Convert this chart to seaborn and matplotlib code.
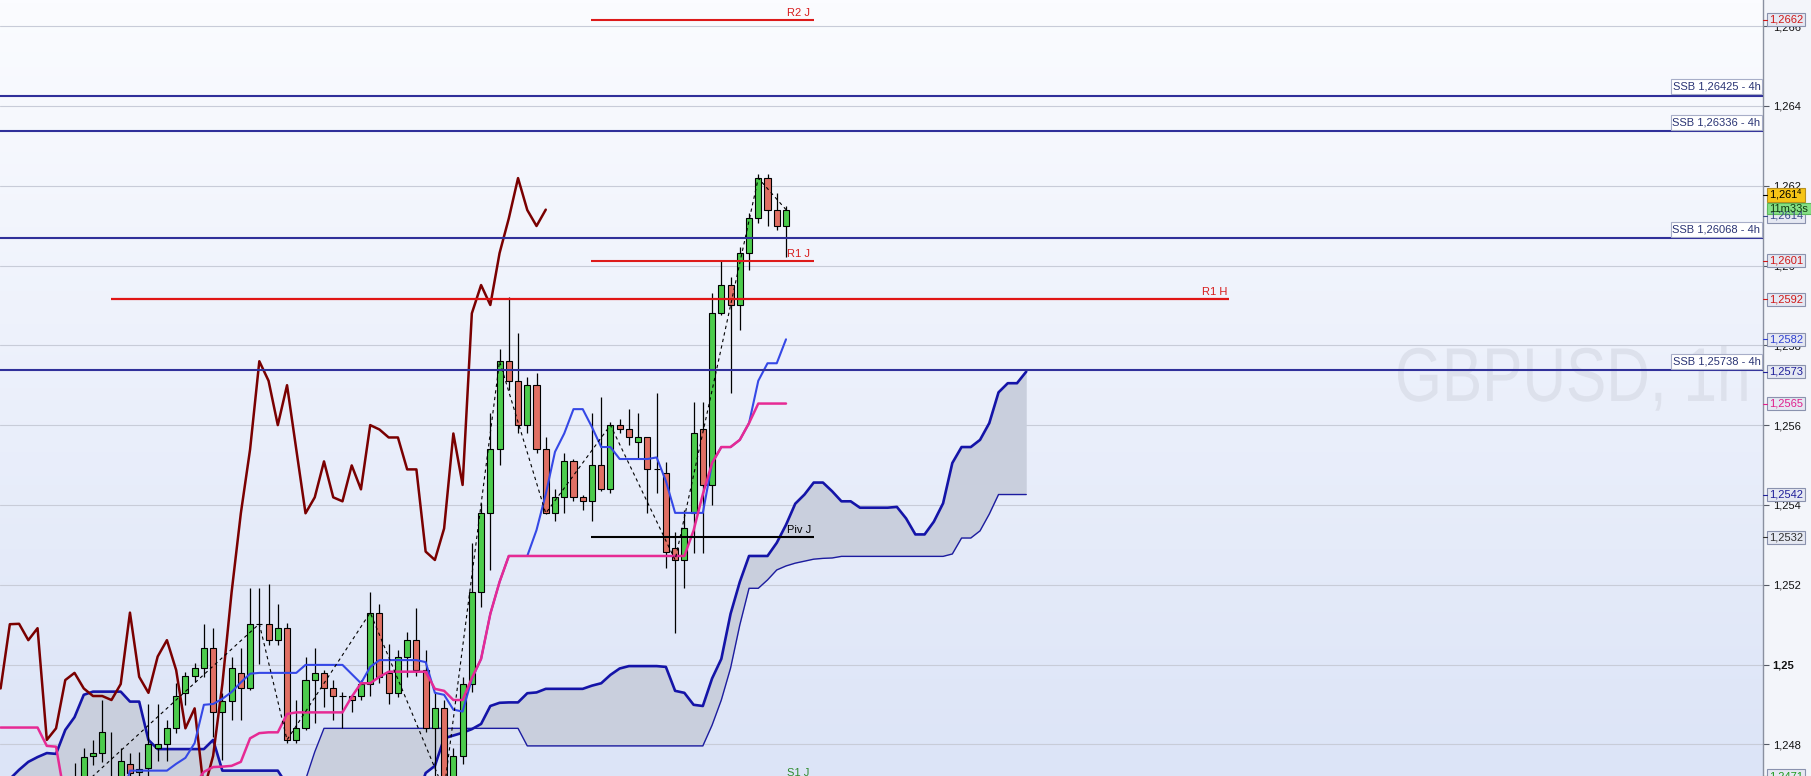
import numpy as np
import seaborn as sns
import matplotlib.pyplot as plt
import matplotlib.transforms as mtransforms
from matplotlib.patches import Rectangle, PathPatch
from matplotlib.textpath import TextPath
from matplotlib.font_manager import FontProperties

# GBPUSD 1h - bars are counted from the left edge of the view (bar 85 = last candle)
first_bar = 8
opens = [1.24711, 1.24678, 1.24771, 1.24779, 1.24706, 1.24660, 1.24750, 1.24730, 1.24740, 1.24790,
         1.24800, 1.24840, 1.24929, 1.24971, 1.24990, 1.25041, 1.24880, 1.24909, 1.24979, 1.24940,
         1.25101, 1.25101, 1.25061, 1.25091, 1.24811, 1.24840, 1.24961, 1.24979, 1.24940, 1.24921,
         1.24921, 1.24921, 1.24951, 1.25130, 1.24979, 1.24929, 1.25020, 1.25061, 1.24986, 1.24840,
         1.24890, 1.24685, 1.24771, 1.24951, 1.25181, 1.25379, 1.25539, 1.25760, 1.25711, 1.25600,
         1.25700, 1.25539, 1.25379, 1.25419, 1.25509, 1.25419, 1.25409, 1.25499, 1.25439, 1.25600,
         1.25589, 1.25558, 1.25569, 1.25489, 1.25479, 1.25291, 1.25262, 1.25379, 1.25589, 1.25450,
         1.25880, 1.25951, 1.25901, 1.26031, 1.26118, 1.26219, 1.26139, 1.26099]
highs = [1.24753, 1.24791, 1.24811, 1.24911, 1.24832, 1.24791, 1.24779, 1.24781, 1.24901, 1.24901,
         1.24861, 1.24953, 1.24982, 1.25003, 1.25102, 1.25091, 1.24928, 1.25020, 1.25041, 1.25191,
         1.25191, 1.25201, 1.25152, 1.25103, 1.24911, 1.25020, 1.25041, 1.24986, 1.24961, 1.24931,
         1.24921, 1.24961, 1.25181, 1.25152, 1.25051, 1.25036, 1.25082, 1.25141, 1.25036, 1.24932,
         1.24911, 1.24790, 1.24969, 1.25304, 1.25405, 1.25630, 1.25790, 1.25922, 1.25832, 1.25721,
         1.25731, 1.25569, 1.25439, 1.25529, 1.25515, 1.25425, 1.25630, 1.25671, 1.25609, 1.25615,
         1.25640, 1.25630, 1.25570, 1.25680, 1.25508, 1.25333, 1.25387, 1.25659, 1.25659, 1.25930,
         1.26011, 1.25972, 1.26047, 1.26131, 1.26229, 1.26229, 1.26181, 1.26149]
lows = [1.24648, 1.24660, 1.24748, 1.24756, 1.24560, 1.24635, 1.24706, 1.24711, 1.24706, 1.24759,
        1.24759, 1.24829, 1.24899, 1.24957, 1.24969, 1.24819, 1.24761, 1.24861, 1.24861, 1.24936,
        1.25001, 1.25049, 1.25049, 1.24803, 1.24803, 1.24836, 1.24853, 1.24894, 1.24861, 1.24840,
        1.24882, 1.24911, 1.24921, 1.24953, 1.24901, 1.24919, 1.24969, 1.24971, 1.24831, 1.24678,
        1.24668, 1.24623, 1.24751, 1.24932, 1.25145, 1.25237, 1.25500, 1.25688, 1.25579, 1.25579,
        1.25529, 1.25377, 1.25359, 1.25379, 1.25409, 1.25387, 1.25359, 1.25435, 1.25429, 1.25579,
        1.25550, 1.25517, 1.25379, 1.25429, 1.25241, 1.25080, 1.25191, 1.25280, 1.25280, 1.25400,
        1.25876, 1.25680, 1.25838, 1.25989, 1.26107, 1.26099, 1.26089, 1.26021]
closes = [1.24678, 1.24769, 1.24779, 1.24830, 1.24660, 1.24759, 1.24727, 1.24738, 1.24801, 1.24800,
          1.24840, 1.24921, 1.24971, 1.24990, 1.25041, 1.24880, 1.24909, 1.24990, 1.24940, 1.25101,
          1.25102, 1.25061, 1.25091, 1.24811, 1.24840, 1.24961, 1.24979, 1.24940, 1.24921, 1.24921,
          1.24911, 1.24951, 1.25130, 1.24969, 1.24929, 1.25020, 1.25061, 1.24986, 1.24840, 1.24890,
          1.24685, 1.24771, 1.24951, 1.25181, 1.25379, 1.25539, 1.25760, 1.25711, 1.25600, 1.25700,
          1.25539, 1.25379, 1.25419, 1.25509, 1.25419, 1.25409, 1.25499, 1.25439, 1.25600, 1.25589,
          1.25569, 1.25569, 1.25489, 1.25489, 1.25283, 1.25262, 1.25341, 1.25579, 1.25450, 1.25880,
          1.25951, 1.25901, 1.26031, 1.26118, 1.26219, 1.26139, 1.26099, 1.26140]

# Ichimoku lines, one value per bar from bar 0
tenkan = [1.24626] * 5 + [1.24650] * 9 + [1.24734] * 5 + [
    1.24751, 1.24766, 1.24803, 1.24899, 1.24901, 1.24914, 1.24931, 1.24955, 1.24977] + [1.24979] * 5 + \
    [1.24999] * 5 + [1.24976, 1.24953, 1.24994] + [1.25011] * 5 + [
    1.25006, 1.24929, 1.24924, 1.24887, 1.24882, 1.24964, 1.25014, 1.25127, 1.25207] + [1.25272] * 3 + [
    1.25337, 1.25427, 1.25533, 1.25579, 1.25640, 1.25640, 1.25595, 1.25545, 1.25545] + [1.25515] * 4 + [
    1.25519, 1.25460] + [1.25380] * 4 + [1.25505, 1.25545, 1.25545, 1.25563, 1.25605, 1.25711,
                                         1.25755, 1.25755, 1.25815]
kijun = [1.24842] * 5 + [1.24796, 1.24794] + [1.24660] * 13 + [
    1.24690, 1.24698, 1.24731, 1.24743, 1.24744, 1.24746, 1.24756, 1.24815, 1.24828, 1.24830, 1.24830,
    1.24876] + [1.24880] * 6 + [1.24919, 1.24953, 1.24953, 1.24969] + [1.24982] * 5 + [
    1.24939, 1.24934, 1.24911, 1.24911, 1.24966, 1.25014, 1.25127, 1.25207] + [1.25272] * 20 + [
    1.25336, 1.25427, 1.25505, 1.25545, 1.25545, 1.25563, 1.25605] + [1.25654] * 4
span_a = [1.24685, 1.24713, 1.24736, 1.24756, 1.24768, 1.24778, 1.24776, 1.24836, 1.24868, 1.24924] + \
    [1.24932] * 4 + [1.24907] * 2 + [1.24811] + [1.24788] * 6 + [1.24811] + [1.24734] * 7 + [1.24698] + \
    [1.24660] * 14 + [1.24728, 1.24746, 1.24815, 1.24822, 1.24829, 1.24838, 1.24851, 1.24896, 1.24904,
                      1.24905, 1.24905, 1.24928, 1.24930] + [1.24939] * 5 + [
    1.24947, 1.24953, 1.24974, 1.24990] + [1.24996] * 4 + [
    1.24994, 1.24934, 1.24929, 1.24899, 1.24896, 1.24965, 1.25014, 1.25127, 1.25207] + [1.25272] * 3 + [
    1.25305, 1.25350, 1.25403, 1.25426, 1.25456, 1.25456, 1.25434, 1.25409, 1.25409] + [1.25393] * 4 + [
    1.25395, 1.25366, 1.25326, 1.25326, 1.25358, 1.25404, 1.25505, 1.25545, 1.25545, 1.25563, 1.25605,
    1.25682, 1.25705, 1.25705, 1.25734]
span_b = [1.24620] * 33 + [1.24711, 1.24781] + [1.24840] * 22 + [1.24796] * 20 + [
    1.24848, 1.24911, 1.24991, 1.25099, 1.25191, 1.25191, 1.25212, 1.25237, 1.25247, 1.25254, 1.25259,
    1.25264, 1.25266, 1.25267] + [1.25271] * 12 + [1.25277, 1.25317, 1.25317, 1.25335, 1.25377] + [1.25426] * 4
zigzag_bars = [8, 28, 31, 40, 48, 54, 59, 66, 73, 82, 85]

ssb_4h = [1.26425, 1.26336, 1.26068, 1.25738]
day_names = ["R2 J", "R1 J", "Piv J", "S1 J"]
day_values = [1.26616, 1.26012, 1.25319, 1.2471]
day_colors = ["#d81c1c", "#d81c1c", "black", "#2e8b2e"]
h_name, h_value = "R1 H", 1.25916

ytick_values = [1.248, 1.250, 1.252, 1.254, 1.256, 1.258, 1.260, 1.262, 1.264, 1.266]
ytick_labels = ["1,248", "1,25", "1,252", "1,254", "1,256", "1,258", "1,26", "1,262", "1,264", "1,266"]

tag_values = [1.26616, 1.26012, 1.25916, 1.25815, 1.25734, 1.25654, 1.25426, 1.25319]
tag_texts = ["1,2662", "1,2601", "1,2592", "1,2582", "1,2573", "1,2565", "1,2542", "1,2532"]
tag_colors = ["#d01818", "#d01818", "#d01818", "#3040d0", "#20209a", "#e0208c", "#20209a", "#303030"]

sns.set_style("white")
plt.rcParams["font.family"] = ["Liberation Sans", "DejaVu Sans"]
plt.rcParams["mathtext.default"] = "regular"

W, H, AX_W = 1811, 776, 1763
BAR_PX, BAR0_PX = 9.24, 0.6
PX = 39900.0          # pixels per price unit
P_REF, Y_REF = 1.25, 664.5


def bx(px):
    return (px - BAR0_PX) / BAR_PX


def py(ypx):
    return P_REF + (Y_REF - ypx) / PX


fig = plt.figure(figsize=(W / 100, H / 100), dpi=100)
fig.patch.set_facecolor("#f3f5fa")
ax = fig.add_axes([0, 0, AX_W / W, 1])
xlim = (bx(0), bx(AX_W))
ylim = (py(H), py(0))

# background gradient
top = np.array([251, 252, 255]) / 255
bot = np.array([220, 228, 247]) / 255
t = np.linspace(0, 1, 256)[:, None]
grad = (top + (bot - top) * t)[:, None, :]
ax.imshow(grad, extent=[xlim[0], xlim[1], ylim[0], ylim[1]], aspect="auto",
          origin="upper", zorder=0)

# watermark
fp = FontProperties(family="Liberation Sans")
ref = TextPath((0, 0), "GBPUSD", size=1, prop=fp).get_extents()
wm = TextPath((0, 0), "GBPUSD, 1h", size=1, prop=fp)
sx, sy = 249 / ref.width, 54 / ref.height
tr = mtransforms.Affine2D().translate(-ref.x0, 0).scale(sx, sy).translate(1398, H - 401)
wm_patch = PathPatch(wm, transform=tr, facecolor="#dde1ec", edgecolor="none", zorder=0.3)
ax.add_artist(wm_patch)
wm_patch.set_clip_box(ax.bbox)

for v in ytick_values:
    ax.axhline(v, color="#c8ccd8", lw=0.8, zorder=0.6)

# cloud
cx = np.arange(len(span_a))
ax.fill_between(cx, span_a, span_b, color="#c9cfdd", lw=0, zorder=1)
sns.lineplot(x=cx, y=span_b, ax=ax, color="#1c1ca0", linewidth=1.0, zorder=2)
sns.lineplot(x=cx, y=span_a, ax=ax, color="#1414a8", linewidth=1.9, zorder=2)

# candles
bars = np.arange(first_bar, first_bar + len(opens))
o, hi, lo, c = (np.array(a) for a in (opens, highs, lows, closes))
up = c >= o
ax.vlines(bars, lo, hi, color="black", lw=0.9, zorder=4)
ax.bar(bars, np.maximum(np.abs(c - o), 1e-7), bottom=np.minimum(o, c), width=0.66,
       color=np.where(up, "#4ccc4c", "#e07064"), edgecolor="black", linewidth=0.8, zorder=4.5)

# chikou / tenkan / kijun
chikou = c[26 - first_bar:]
sns.lineplot(x=np.arange(len(chikou)), y=chikou, ax=ax, color="#7a0000", linewidth=1.8, zorder=5)
sns.lineplot(x=np.arange(len(tenkan)), y=tenkan, ax=ax, color="#3548e6", linewidth=1.5, zorder=5)
sns.lineplot(x=np.arange(len(kijun)), y=kijun, ax=ax, color="#e62a94", linewidth=1.8, zorder=5.1)

# zigzag
zz = [c[b - first_bar] for b in zigzag_bars]
ax.plot(zigzag_bars, zz, color="black", lw=0.8, ls=(0, (3, 3)), zorder=6)

# levels
for v in ssb_4h:
    ax.axhline(v, color="#30309a", lw=1.5, zorder=7)
    ax.add_patch(Rectangle((bx(1671), v + 1.5 / PX), (1762 - 1671) / BAR_PX, 15 / PX,
                           facecolor="white", edgecolor="#a8aec8", lw=0.8, zorder=8))
    ax.text(bx(1716.5), v + 9 / PX, "SSB " + f"{v:.5f}".replace(".", ",") + " - 4h",
            color="#2a3474", fontsize=8, ha="center", va="center", zorder=9)

for name, v, col in zip(day_names, day_values, day_colors):
    line_col = "black" if col == "black" else "#dd1a1a"
    ax.hlines(v, bx(591), bx(814), color=line_col, lw=1.5, zorder=7)
    ax.text(bx(787), v + 2 / PX, name, color=col, fontsize=8, ha="left", va="bottom", zorder=9)
ax.hlines(h_value, bx(111), bx(1229), color="#e01414", lw=1.6, zorder=7)
ax.text(bx(1202), h_value + 2 / PX, h_name, color="#d81c1c", fontsize=8, ha="left", va="bottom", zorder=9)

# right axis
ax.set_xlim(xlim)
ax.set_ylim(ylim)
ax.set_xticks([])
ax.yaxis.tick_right()
ax.set_yticks(ytick_values)
ax.set_yticklabels(ytick_labels)
ax.tick_params(axis="y", length=4, width=0.8, color="#555a66", labelsize=8, pad=3, labelcolor="#111")
for lab in ax.get_yticklabels():
    if lab.get_text() == "1,25":
        lab.set_fontweight("bold")
for s in ("top", "left", "bottom"):
    ax.spines[s].set_visible(False)
ax.spines["right"].set_color("#8a90a0")
ax.spines["right"].set_linewidth(1.0)


def tag(price, text, color, face="#e5e8f2", edge="#8a92ae", x0=1767, x1=1805, h=13, tick=True):
    ax.add_patch(Rectangle((bx(x0), price - h / 2 / PX), (x1 - x0) / BAR_PX, h / PX, facecolor=face,
                           edgecolor=edge, lw=0.8, clip_on=False, zorder=20))
    ax.text(bx((x0 + x1) / 2), price, text, color=color, fontsize=8, ha="center", va="center",
            clip_on=False, zorder=21)
    if tick:
        ax.plot([bx(1763), bx(x0)], [price, price], color=color, lw=0.8, clip_on=False, zorder=21)


for v, txt, col in zip(tag_values, tag_texts, tag_colors):
    tag(v, txt, col)
tag(py(776), "1,2471", "#1e9a1e")
tag(py(215.5), "1,2614", "#3a4a8a", h=14)
tag(py(195), "1,261$^4$", "black", face="#f6c416", edge="#b89020", h=14)
tag(py(208.7), "11m33s", "#103a10", face="#86e086", edge="#5cb85c", x1=1811, h=11, tick=False)

fig.savefig("out.png", dpi=100, facecolor=fig.get_facecolor())
